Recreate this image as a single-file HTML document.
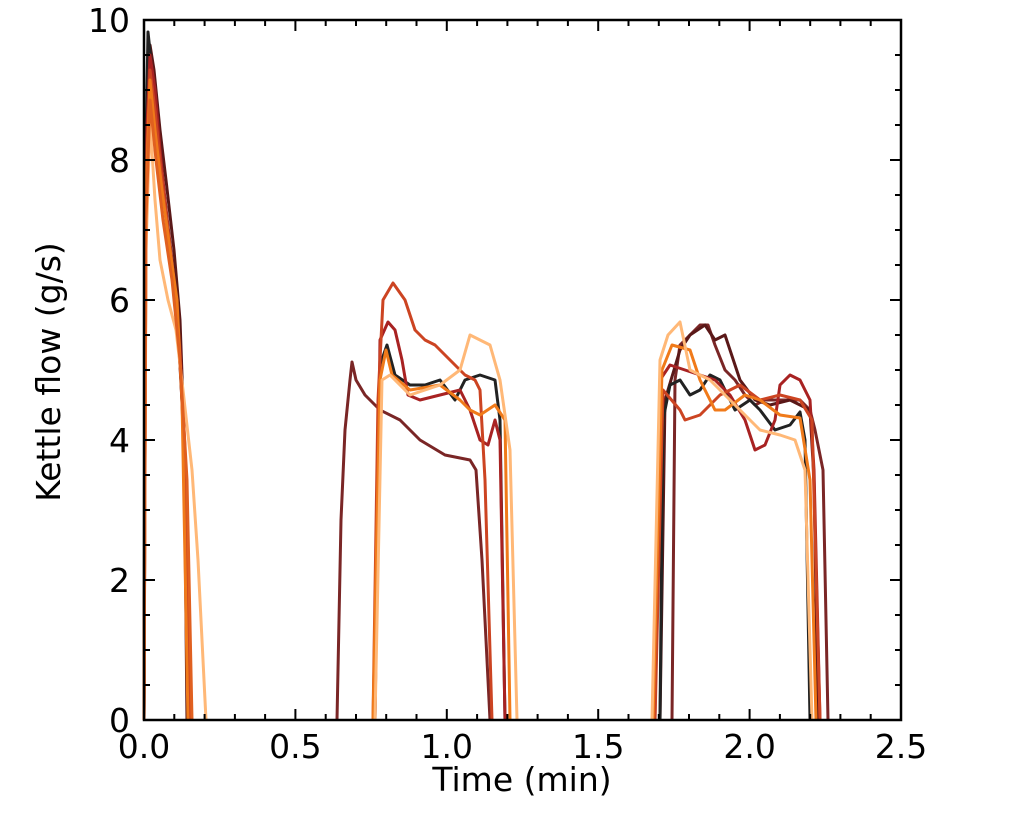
<!DOCTYPE html>
<html><head><meta charset="utf-8"><style>
body{margin:0;background:#fff;}
svg{display:block;font-family:"DejaVu Sans","Liberation Sans",sans-serif;}
</style></head><body>
<svg width="1024" height="819" viewBox="0 0 1024 819">
<g fill="none" stroke-width="3" stroke-linejoin="round">
<path stroke="#7a2626" d="M144,720 L146,200 L149,60 L153,80 L158,150 L165,200 L172,260 L178,330 L183,420 L186,560 L189,720
M337,720 L341,520 L345,430 L350,380 L352,362 L356,380 L365,395 L380,410 L400,420 L420,440 L445,455 L470,460 L476,470 L482,560 L490,720
M672,720 L675,380 L680,345 L690,335 L700,325 L708,325 L715,345 L725,370 L735,380 L745,395 L755,405 L765,400 L780,400 L800,400 L810,410 L815,430 L823,470 L828,720"/>
<path stroke="#5a1818" d="M144,720 L146,150 L150,45 L154,70 L160,130 L166,180 L174,250 L180,320 L184,430 L187,720
M660,720 L665,400 L680,350 L690,335 L705,325 L715,340 L725,335 L740,380 L755,400 L770,405 L790,400 L810,410 L814,480 L818,720"/>
<path stroke="#222222" d="M144,720 L145,200 L148,32 L152,70 L158,140 L165,210 L172,270 L178,320 L184,440 L188,720
M375,720 L380,365 L387,345 L395,375 L410,385 L425,385 L440,380 L455,400 L465,380 L480,375 L495,380 L500,420 L505,720
M660,720 L663,420 L670,385 L680,380 L690,395 L700,390 L710,375 L720,380 L735,410 L750,400 L760,410 L775,430 L790,425 L800,412 L805,440 L810,720"/>
<path stroke="#a82222" d="M144,720 L146,150 L150,55 L155,90 L160,150 L167,220 L174,280 L180,350 L185,450 L189,720
M375,720 L380,340 L388,322 L395,330 L402,360 L408,395 L420,400 L440,395 L460,390 L470,410 L480,440 L488,445 L495,420 L500,440 L505,720
M655,720 L660,380 L670,365 L685,370 L700,375 L715,380 L730,395 L745,420 L755,450 L765,445 L775,420 L780,385 L790,375 L800,380 L810,400 L814,470 L820,720"/>
<path stroke="#cc4422" d="M144,720 L146,180 L150,70 L155,110 L161,170 L168,230 L175,290 L181,380 L186,500 L191,720
M373,720 L378,400 L383,300 L393,283 L405,300 L415,330 L425,340 L435,345 L445,355 L455,365 L465,375 L475,380 L480,390 L485,480 L492,720
M655,720 L663,390 L680,410 L685,420 L700,415 L720,395 L740,385 L760,400 L780,395 L800,400 L812,420 L820,720"/>
<path stroke="#f07a1a" d="M144,720 L146,200 L150,80 L155,130 L162,190 L170,250 L177,300 L182,400 L188,720
M373,720 L380,380 L386,350 L392,375 L410,390 L440,385 L460,400 L470,410 L480,415 L495,405 L505,420 L510,720
M653,720 L662,370 L672,345 L690,350 L700,380 L715,410 L725,410 L745,395 L760,400 L780,415 L800,418 L810,480 L816,720"/>
<path stroke="#ffb877" d="M144,720 L146,250 L150,120 L155,200 L160,260 L168,300 L176,330 L183,390 L192,470 L198,560 L206,720
M375,720 L382,380 L390,375 L410,395 L440,385 L460,370 L470,335 L480,340 L490,345 L500,380 L510,450 L517,720
M652,720 L660,360 L668,335 L680,322 L690,370 L710,380 L740,410 L760,430 L780,435 L795,440 L805,470 L812,720"/>
<path stroke="#e06020" d="M144,720 L146,220 L150,100 L156,160 L163,220 L172,280 L180,360 L187,480 L192,720"/>
</g>
<rect x="144" y="20" width="757" height="700" fill="none" stroke="#000" stroke-width="2.5"/>
<g stroke="#000" stroke-width="2">
<path d="M295.4,720v-11M446.8,720v-11M598.2,720v-11M749.6,720v-11M295.4,20v11M446.8,20v11M598.2,20v11M749.6,20v11"/>
<path d="M174.3,720v-6M204.6,720v-6M234.9,720v-6M265.1,720v-6M325.7,720v-6M356,720v-6M386.2,720v-6M416.5,720v-6M477.1,720v-6M507.4,720v-6M537.6,720v-6M567.9,720v-6M628.5,720v-6M658.8,720v-6M689,720v-6M719.3,720v-6M779.9,720v-6M810.2,720v-6M840.4,720v-6M870.7,720v-6
M174.3,20v6M204.6,20v6M234.9,20v6M265.1,20v6M325.7,20v6M356,20v6M386.2,20v6M416.5,20v6M477.1,20v6M507.4,20v6M537.6,20v6M567.9,20v6M628.5,20v6M658.8,20v6M689,20v6M719.3,20v6M779.9,20v6M810.2,20v6M840.4,20v6M870.7,20v6"/>
<path d="M144,580h11M144,440h11M144,300h11M144,160h11M901,580h-11M901,440h-11M901,300h-11M901,160h-11"/>
<path d="M144,685h6M144,650h6M144,615h6M144,545h6M144,510h6M144,475h6M144,405h6M144,370h6M144,335h6M144,265h6M144,230h6M144,195h6M144,125h6M144,90h6M144,55h6
M901,685h-6M901,650h-6M901,615h-6M901,545h-6M901,510h-6M901,475h-6M901,405h-6M901,370h-6M901,335h-6M901,265h-6M901,230h-6M901,195h-6M901,125h-6M901,90h-6M901,55h-6"/>
</g>
<g font-size="33" fill="#000">
<g text-anchor="end">
<text x="130" y="732">0</text>
<text x="130" y="592">2</text>
<text x="130" y="452">4</text>
<text x="130" y="312">6</text>
<text x="130" y="172">8</text>
<text x="130" y="32">10</text>
</g>
<g text-anchor="middle">
<text x="144" y="758">0.0</text>
<text x="295.4" y="758">0.5</text>
<text x="446.8" y="758">1.0</text>
<text x="598.2" y="758">1.5</text>
<text x="749.6" y="758">2.0</text>
<text x="901" y="758">2.5</text>
<text x="522" y="791">Time (min)</text>
<text transform="translate(60,372) rotate(-90)">Kettle flow (g/s)</text>
</g>
</g>
</svg>
</body></html>
